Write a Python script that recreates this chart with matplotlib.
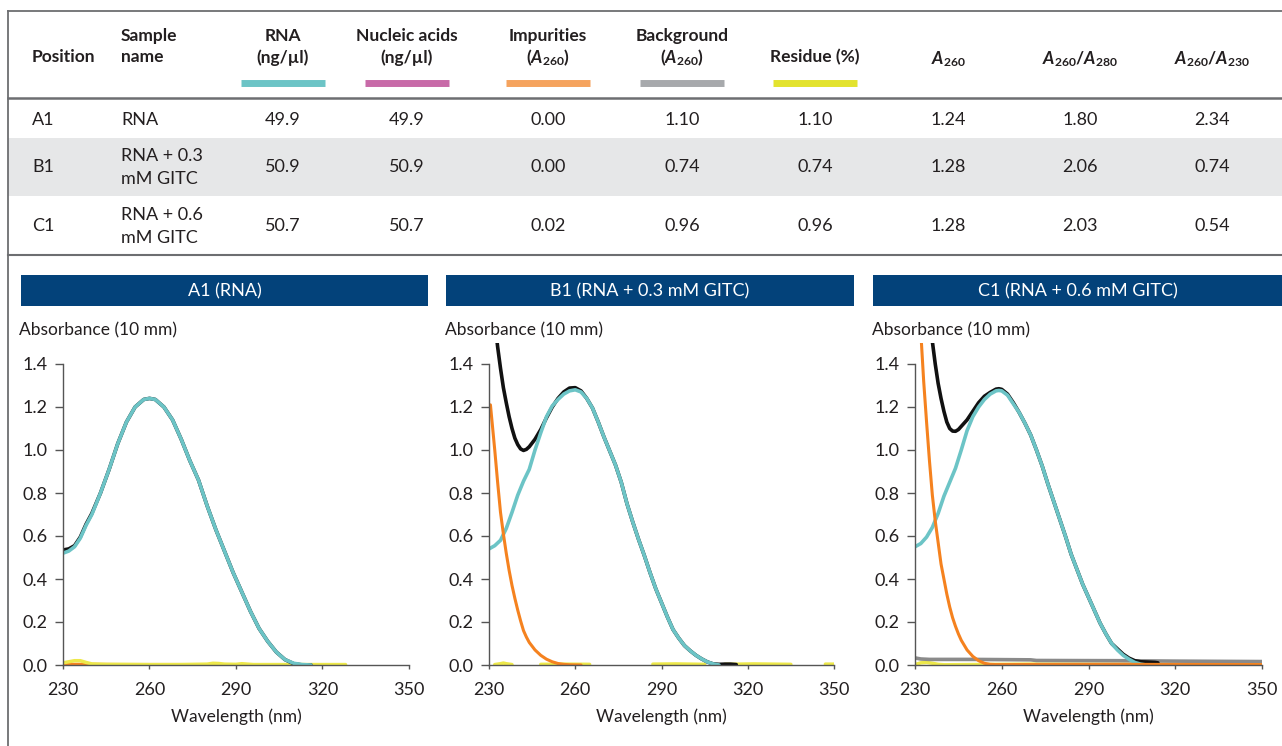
import numpy as np
import matplotlib
matplotlib.use("Agg")
import matplotlib.pyplot as plt
from matplotlib.patches import Rectangle

plt.rcParams.update({
    "font.family": ["Lato", "DejaVu Sans"],
    "mathtext.fontset": "custom",
    "mathtext.rm": "Lato",
    "mathtext.it": "Lato:italic",
    "mathtext.bf": "Lato:bold",
    "mathtext.bfit": "Lato:bold:italic",
})

# ---------------------------------------------------------------------------
# Table data
# ---------------------------------------------------------------------------
POSITIONS = ["A1", "B1", "C1"]
SAMPLE_NAMES = ["RNA", "RNA + 0.3\nmM GITC", "RNA + 0.6\nmM GITC"]
RNA_CONC = ["49.9", "50.9", "50.7"]
NUCLEIC_ACIDS = ["49.9", "50.9", "50.7"]
IMPURITIES = ["0.00", "0.00", "0.02"]
BACKGROUND = ["1.10", "0.74", "0.96"]
RESIDUE = ["1.10", "0.74", "0.96"]
A260 = ["1.24", "1.28", "1.28"]
A260_A280 = ["1.80", "2.06", "2.03"]
A260_A230 = ["2.34", "0.74", "0.54"]

PANEL_TITLES = ["A1 (RNA)", "B1 (RNA + 0.3 mM GITC)", "C1 (RNA + 0.6 mM GITC)"]

# ---------------------------------------------------------------------------
# Spectra (wavelength in nm, absorbance 10 mm)
# ---------------------------------------------------------------------------
WL_A1 = [230, 232, 234, 236, 238, 240, 243, 246, 249, 252, 255, 258, 260, 262,
         265, 268, 271, 274, 277, 280, 283, 286, 289, 292, 295, 298, 301, 304,
         307, 310, 313, 316]
RNA_A1 = [0.52, 0.53, 0.55, 0.59, 0.65, 0.70, 0.80, 0.91, 1.03, 1.13, 1.20, 1.235,
          1.24, 1.235, 1.20, 1.14, 1.05, 0.95, 0.86, 0.74, 0.63, 0.53, 0.43, 0.34,
          0.25, 0.17, 0.11, 0.06, 0.025, 0.008, 0.002, 0.0]
TOTAL_A1 = [0.535, 0.54, 0.555, 0.595, 0.655, 0.705, 0.80, 0.91, 1.03, 1.13, 1.20,
            1.235, 1.24, 1.235, 1.20, 1.14, 1.05, 0.95, 0.86, 0.74, 0.63, 0.53,
            0.43, 0.34, 0.25, 0.17, 0.11, 0.06, 0.025, 0.006, 0.0, 0.0]
WL_IMP_A1 = [230, 240, 250, 260, 270, 280, 320]
IMP_A1 = [0.004, 0.004, 0.003, 0.003, 0.003, 0.002, 0.002]
WL_RES_A1 = [230, 232, 234, 236, 238, 240, 245, 250, 260, 270, 280, 282, 284, 286,
             290, 292, 294, 296, 300, 310, 320, 328]
RES_A1 = [0.01, 0.015, 0.02, 0.02, 0.012, 0.005, 0.003, 0.003, 0.002, 0.002, 0.004,
          0.008, 0.007, 0.004, 0.003, 0.006, 0.004, 0.002, 0.002, 0.002, 0.002, 0.002]

WL_RNA_B1 = [230, 232, 234, 236, 238, 240, 242, 244, 246, 248, 250, 252, 254, 256,
             258, 260, 262, 264, 266, 268, 270, 272, 274, 276, 278, 280, 282, 284,
             286, 288, 290, 292, 294, 296, 298, 300, 302, 304, 306, 308, 310]
RNA_B1 = [0.54, 0.555, 0.58, 0.635, 0.71, 0.79, 0.855, 0.91, 1.00, 1.08, 1.155,
          1.205, 1.235, 1.26, 1.275, 1.28, 1.27, 1.24, 1.195, 1.13, 1.06, 0.995,
          0.93, 0.85, 0.75, 0.665, 0.585, 0.51, 0.43, 0.355, 0.29, 0.225, 0.165,
          0.125, 0.09, 0.066, 0.045, 0.028, 0.014, 0.005, 0.0]
WL_TOT_B1 = [230, 231, 232, 233, 234, 235, 236, 237, 238, 239, 240, 241, 242, 243,
             244, 246, 248, 250, 252, 254, 256, 258, 260, 262, 264, 266, 268, 270,
             272, 274, 276, 278, 280, 282, 284, 286, 288, 290, 292, 294, 296, 298,
             300, 302, 304, 306, 308, 310, 312, 314, 316]
TOTAL_B1 = [1.90, 1.74, 1.60, 1.48, 1.38, 1.29, 1.22, 1.155, 1.10, 1.055, 1.025,
            1.005, 0.998, 1.003, 1.015, 1.05, 1.095, 1.15, 1.20, 1.24, 1.27, 1.288,
            1.29, 1.275, 1.24, 1.195, 1.13, 1.06, 0.995, 0.93, 0.85, 0.75, 0.665,
            0.585, 0.51, 0.43, 0.355, 0.29, 0.225, 0.165, 0.125, 0.09, 0.066, 0.045,
            0.028, 0.014, 0.005, 0.003, 0.004, 0.004, 0.002]
WL_IMP_B1 = [230.5, 231, 232, 233, 234, 235, 236, 237, 238, 239, 240, 241, 242, 243,
             244, 246, 248, 250, 252, 254, 256, 258, 262]
IMP_B1 = [1.21, 1.14, 1.00, 0.85, 0.71, 0.61, 0.52, 0.44, 0.37, 0.31, 0.255, 0.205,
          0.16, 0.13, 0.105, 0.07, 0.045, 0.027, 0.015, 0.007, 0.003, 0.001, 0.0]
WL_RES_B1 = [232, 234, 235, 236, 238, np.nan, 248, 256, 265, np.nan, 287, 295, 305,
             np.nan, 312, 322, 335, np.nan, 347, 350]
RES_B1 = [0.002, 0.006, 0.009, 0.006, 0.002, np.nan, 0.003, 0.004, 0.003, np.nan,
          0.004, 0.005, 0.003, np.nan, 0.003, 0.005, 0.003, np.nan, 0.004, 0.004]

WL_RNA_C1 = [230, 232, 234, 236, 238, 240, 242, 244, 246, 248, 250, 252, 254, 256,
             258, 259, 260, 262, 264, 266, 268, 270, 272, 274, 276, 278, 280, 282,
             284, 286, 288, 290, 292, 294, 296, 298, 300, 302, 304, 306, 308, 310]
RNA_C1 = [0.55, 0.565, 0.595, 0.64, 0.705, 0.785, 0.85, 0.915, 1.00, 1.09, 1.155,
          1.20, 1.235, 1.26, 1.275, 1.277, 1.275, 1.255, 1.215, 1.175, 1.125, 1.07,
          1.00, 0.925, 0.84, 0.76, 0.68, 0.60, 0.515, 0.445, 0.375, 0.315, 0.255,
          0.195, 0.145, 0.10, 0.07, 0.045, 0.027, 0.012, 0.004, 0.0]
WL_TOT_C1 = [232, 233, 234, 235, 236, 237, 238, 239, 240, 241, 242, 243, 244, 245,
             246, 248, 250, 252, 254, 256, 258, 259, 260, 262, 264, 266, 268, 270,
             272, 274, 276, 278, 280, 282, 284, 286, 288, 290, 292, 294, 296, 298,
             300, 302, 304, 306, 308, 310, 313, 314]
TOTAL_C1 = [1.98, 1.84, 1.72, 1.61, 1.505, 1.40, 1.31, 1.24, 1.18, 1.13, 1.10,
            1.088, 1.087, 1.095, 1.11, 1.14, 1.18, 1.22, 1.25, 1.268, 1.283, 1.285,
            1.282, 1.26, 1.22, 1.175, 1.125, 1.07, 1.00, 0.925, 0.84, 0.76, 0.68,
            0.60, 0.515, 0.445, 0.375, 0.315, 0.255, 0.195, 0.145, 0.10, 0.075,
            0.05, 0.032, 0.02, 0.015, 0.014, 0.012, 0.01]
WL_IMP_C1 = [230, 231, 232, 233, 234, 235, 236, 237, 238, 239, 240, 241, 242, 243,
             244, 245, 246, 248, 250, 252, 254, 256, 258, 300, 350]
IMP_C1 = [1.95, 1.72, 1.55, 1.32, 1.13, 0.95, 0.79, 0.67, 0.57, 0.47, 0.40, 0.33,
          0.27, 0.22, 0.18, 0.145, 0.115, 0.07, 0.04, 0.02, 0.008, 0.003, 0.002,
          0.003, 0.002]
WL_BG_C1 = [230, 232, 235, 250, 270, 272, 300, 320, 350]
BG_C1 = [0.033, 0.028, 0.026, 0.026, 0.024, 0.021, 0.02, 0.018, 0.016]
WL_RES_C1 = [230, 232, 234, 236, 238, 240, 270, 300, 350]
RES_C1 = [0.002, 0.01, 0.012, 0.008, 0.003, 0.001, 0.004, 0.003, 0.003]

# ---------------------------------------------------------------------------
# Colours
# ---------------------------------------------------------------------------
C_RNA = "#6cc4c6"
C_TOTAL = "#111111"
C_IMP = "#f5821f"
C_BG = "#8a8a8a"
C_RES = "#ede84a"
C_BAND = "#03427a"
C_TEXT = "#231f20"
C_AXIS = "#555555"

W, H = 1282, 746
fig = plt.figure(figsize=(W / 100, H / 100), dpi=100)

# background axes in pixel coordinates for the table and decorations
bg = fig.add_axes([0, 0, 1, 1], zorder=-1)
bg.set_xlim(0, W)
bg.set_ylim(H, 0)
bg.axis("off")

# table frame
bg.add_patch(Rectangle((8, 138), W - 8, 58, color="#e6e7e8", lw=0))
bg.plot([8, W], [11, 11], color="#6d6e71", lw=1.3)
bg.plot([8, 8], [11, H], color="#6d6e71", lw=1.3)
bg.plot([8, W], [98, 98], color="#6d6e71", lw=1.8)
bg.plot([8, W], [255, 255], color="#6d6e71", lw=1.5)

hdr = dict(fontsize=12.5, fontweight="bold", color=C_TEXT, va="center")
bg.text(32, 57, "Position", ha="left", **hdr)
bg.text(121, 36, "Sample", ha="left", **hdr)
bg.text(121, 57, "name", ha="left", **hdr)

A_SUB = r"$\mathbfit{A}_{\mathbf{260}}$"
two_line = [
    (283, "RNA", "(ng/µl)", C_RNA),
    (407, "Nucleic acids", "(ng/µl)", "#c86aa8"),
    (548, "Impurities", "(" + A_SUB + ")", "#f5a35e"),
    (682, "Background", "(" + A_SUB + ")", "#a7a9ac"),
]
for x, l1, l2, col in two_line:
    bg.text(x, 36, l1, ha="center", **hdr)
    bg.text(x, 58, l2, ha="center", **hdr)
    bg.plot([x - 42, x + 42], [83, 83], color=col, lw=5, solid_capstyle="butt")
bg.text(815, 57, "Residue (%)", ha="center", **hdr)
bg.plot([773, 857], [83, 83], color="#e3e32e", lw=5, solid_capstyle="butt")
bg.text(948, 59, A_SUB, ha="center", **hdr)
bg.text(1080, 59, r"$\mathbfit{A}_{\mathbf{260}}\mathbf{/}\mathbfit{A}_{\mathbf{280}}$",
        ha="center", **hdr)
bg.text(1212, 59, r"$\mathbfit{A}_{\mathbf{260}}\mathbf{/}\mathbfit{A}_{\mathbf{230}}$",
        ha="center", **hdr)

row_y = [120, 167, 226]
cell = dict(fontsize=13, color=C_TEXT, va="center")
value_cols = [(283, RNA_CONC), (407, NUCLEIC_ACIDS), (548, IMPURITIES),
              (682, BACKGROUND), (815, RESIDUE), (948, A260), (1080, A260_A280),
              (1212, A260_A230)]
for i, y in enumerate(row_y):
    bg.text(32, y, POSITIONS[i], ha="left", **cell)
    lines = SAMPLE_NAMES[i].split("\n")
    if len(lines) == 1:
        bg.text(121, y, lines[0], ha="left", **cell)
    else:
        bg.text(121, y - 11, lines[0], ha="left", **cell)
        bg.text(121, y + 12, lines[1], ha="left", **cell)
    for x, vals in value_cols:
        bg.text(x, y, vals[i], ha="center", **cell)

# ---------------------------------------------------------------------------
# Spectra panels
# ---------------------------------------------------------------------------
panels = [
    dict(band=(21, 428), axx=(63, 409), lab=19,
         series=[(WL_IMP_A1, IMP_A1, C_IMP, 2.0), (WL_RES_A1, RES_A1, C_RES, 2.5),
                 (WL_A1, TOTAL_A1, C_TOTAL, 2.6), (WL_A1, RNA_A1, C_RNA, 2.6)]),
    dict(band=(446, 854), axx=(489, 834), lab=445,
         series=[(WL_RES_B1, RES_B1, C_RES, 2.5), (WL_TOT_B1, TOTAL_B1, C_TOTAL, 2.6),
                 (WL_RNA_B1, RNA_B1, C_RNA, 2.6), (WL_IMP_B1, IMP_B1, C_IMP, 2.2)]),
    dict(band=(873, 1282), axx=(915, 1262), lab=872,
         series=[(WL_RES_C1, RES_C1, C_RES, 2.5), (WL_BG_C1, BG_C1, C_BG, 2.6),
                 (WL_TOT_C1, TOTAL_C1, C_TOTAL, 2.6), (WL_RNA_C1, RNA_C1, C_RNA, 2.6),
                 (WL_IMP_C1, IMP_C1, C_IMP, 2.2)]),
]

y0_px, y_top_px = 665, 342.5
for title, p in zip(PANEL_TITLES, panels):
    bx0, bx1 = p["band"]
    bg.add_patch(Rectangle((bx0, 275), bx1 - bx0, 31, color=C_BAND, lw=0))
    bg.text((bx0 + bx1) / 2, 291, title, ha="center", va="center",
            fontsize=13, color="white")
    bg.text(p["lab"], 330, "Absorbance (10 mm)", ha="left", va="center",
            fontsize=12.5, color=C_TEXT)

    ax0, ax1 = p["axx"]
    ax = fig.add_axes([ax0 / W, (H - y0_px) / H, (ax1 - ax0) / W,
                       (y0_px - y_top_px) / H])
    ax.patch.set_alpha(0)
    for wl, vals, col, lw in p["series"]:
        ax.plot(wl, vals, color=col, lw=lw, solid_capstyle="round")
    ax.set_xlim(230, 350)
    ax.set_ylim(0, 1.5)
    ax.set_xticks([230, 260, 290, 320, 350])
    ax.set_yticks(np.arange(0, 1.41, 0.2))
    ax.set_yticklabels([f"{v:.1f}" for v in np.arange(0, 1.41, 0.2)])
    for s in ("top", "right"):
        ax.spines[s].set_visible(False)
    for s in ("left", "bottom"):
        ax.spines[s].set_color(C_AXIS)
        ax.spines[s].set_linewidth(1.0)
    ax.spines["left"].set_bounds(0, 1.4)
    ax.tick_params(axis="y", length=6, width=1, color=C_AXIS, pad=5,
                   labelsize=13, labelcolor=C_TEXT)
    ax.tick_params(axis="x", length=3, width=1, color=C_AXIS, pad=9,
                   labelsize=13, labelcolor=C_TEXT)
    ax.set_xlabel("Wavelength (nm)", fontsize=12.5, color=C_TEXT, labelpad=8)

fig.savefig("out.png", dpi=100)
